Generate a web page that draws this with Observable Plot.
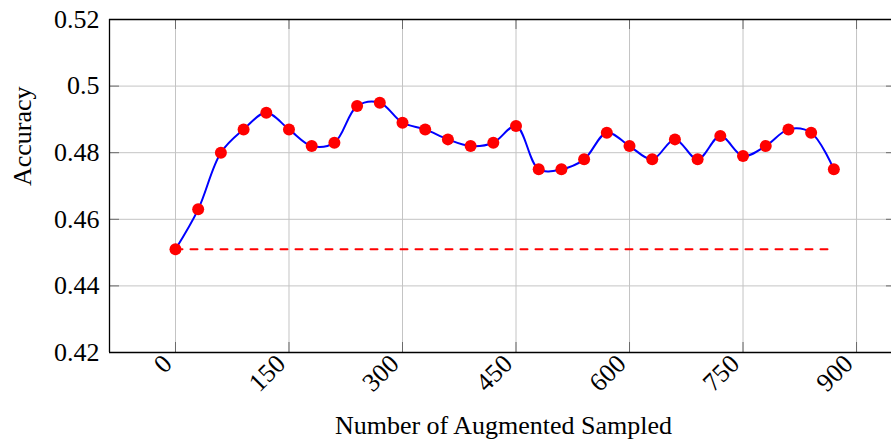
<!DOCTYPE html>
<html>
<head>
<meta charset="utf-8">
<script src="https://cdn.jsdelivr.net/npm/d3@7"></script>
<script src="https://cdn.jsdelivr.net/npm/@observablehq/plot@0.6"></script>
<style>
  html, body { margin: 0; padding: 0; background: #fff; overflow: hidden; }
  #chart svg, #chart svg text, #chart svg g { font-family: 'Liberation Serif', 'Times New Roman', serif !important; font-variant: normal !important; }
</style>
</head>
<body>
<div id="chart"></div>
<script>
const samples = [0, 30, 60, 90, 120, 150, 180, 210, 240, 270, 300, 330, 360, 390, 420,
                 450, 480, 510, 540, 570, 600, 630, 660, 690, 720, 750, 780, 810, 840, 870];
const accuracy = [0.451, 0.463, 0.480, 0.487, 0.492, 0.487, 0.482, 0.483, 0.494, 0.495,
                  0.489, 0.487, 0.484, 0.482, 0.483, 0.488, 0.475, 0.475, 0.478, 0.486,
                  0.482, 0.478, 0.484, 0.478, 0.485, 0.479, 0.482, 0.487, 0.486, 0.475];
const baselineAccuracy = 0.451;
const xTicks = [0, 150, 300, 450, 600, 750, 900];
const xTickLabels = ["0", "150", "300", "450", "600", "750", "900"];
const yTicks = [0.42, 0.44, 0.46, 0.48, 0.50, 0.52];
const yTickLabels = ["0.42", "0.44", "0.46", "0.48", "0.5", "0.52"];
const xLabel = "Number of Augmented Sampled";
const yLabel = "Accuracy";

const data = samples.map((s, i) => ({x: s, y: accuracy[i]}));
const baseline = [samples[0], samples[samples.length - 1]].map(s => ({x: s, y: baselineAccuracy}));

const W = 891, H = 440, mL = 109, mR = 0, mT = 19, mB = 88;
const plotW = W - mL - mR, plotH = H - mT - mB;
const xDomain = [-87.2, 946.2];
const yDomain = [0.42, 0.52];
const font = "'Liberation Serif', 'Times New Roman', serif";
const tickLen = 10;
const gridColor = "#c4c4c4";
const tickColor = "#6a6a6a";

const chart = Plot.plot({
  width: W, height: H,
  marginLeft: mL, marginRight: mR, marginTop: mT, marginBottom: mB,
  style: {fontFamily: font, fontSize: "26px", background: "#fff", color: "#000"},
  x: {domain: xDomain},
  y: {domain: yDomain},
  marks: [
    Plot.ruleX(xTicks, {stroke: gridColor, strokeWidth: 1}),
    Plot.ruleY(yTicks, {stroke: gridColor, strokeWidth: 1}),
    // inner tick marks
    Plot.ruleX(xTicks, {stroke: tickColor, strokeWidth: 1, insetTop: plotH - tickLen}),
    Plot.ruleX(xTicks, {stroke: tickColor, strokeWidth: 1, insetBottom: plotH - tickLen}),
    Plot.ruleY(yTicks, {stroke: tickColor, strokeWidth: 1, insetRight: plotW - tickLen}),
    Plot.ruleY(yTicks, {stroke: tickColor, strokeWidth: 1, insetLeft: plotW - 5}),
    // frame (left, top, bottom)
    Plot.ruleY([yDomain[0], yDomain[1]], {stroke: "#000", strokeWidth: 1.3}),
    Plot.ruleX([xDomain[0]], {stroke: "#000", strokeWidth: 1.3}),
    Plot.axisY(yTicks, {tickSize: 0, tickPadding: 10, tickFormat: (d, i) => yTickLabels[i], fontSize: 26, fontFamily: font, label: null}),
    Plot.axisX(xTicks, {tickSize: 0, tickPadding: 7, dx: -8, tickRotate: -45, tickFormat: (d, i) => xTickLabels[i], fontSize: 26, fontFamily: font, label: null}),
    Plot.line(baseline, {x: "x", y: "y", stroke: "#ff0000", strokeWidth: 2, strokeDasharray: "7,8"}),
    Plot.line(data, {x: "x", y: "y", stroke: "#0000ff", strokeWidth: 2, curve: "catmull-rom"}),
    Plot.dot(data, {x: "x", y: "y", r: 6, fill: "#ff0000", stroke: "none"}),
    Plot.text([xLabel], {frameAnchor: "bottom", dy: 81, dx: 3, fontSize: 26, fontFamily: font}),
    Plot.text([yLabel], {frameAnchor: "left", dx: -87, rotate: -90, fontSize: 26, fontFamily: font})
  ]
});
document.getElementById("chart").appendChild(chart);
</script>
</body>
</html>
